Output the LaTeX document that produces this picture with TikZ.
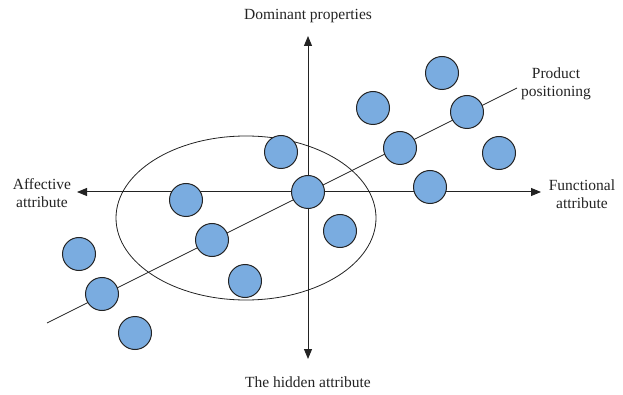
\documentclass[tikz,border=0pt]{standalone}
\usepackage{fontspec}
\setmainfont{Liberation Serif}
\usetikzlibrary{arrows.meta}
\definecolor{dotblue}{RGB}{122,172,224}
\definecolor{ink}{RGB}{35,35,35}
\tikzset{
  dot/.style={circle,draw=ink,line width=1pt,fill=dotblue,minimum size=33pt,inner sep=0pt},
  axis/.style={draw=ink,line width=1pt,-{Triangle[length=10pt,width=8pt]}},
  lbl/.style={font=\fontsize{15.5}{18}\selectfont,text=ink,align=center,inner sep=0pt},
}
\begin{document}
\begin{tikzpicture}[x=1pt,y=-1pt]
\useasboundingbox (0,0) rectangle (623,395);
\coordinate (O) at (308,192);
\coordinate (top) at (308,36);
\coordinate (bot) at (308,359);
\coordinate (lft) at (77,192);
\coordinate (rgt) at (541,192);
\coordinate (ls) at (47,323);
\coordinate (le) at (517,88);
% positioning line
\draw[ink,line width=0.8pt] (ls) -- (le);
% axes
\draw[axis] (O) -- (top);
\draw[axis] (O) -- (bot);
\draw[axis] (O) -- (lft);
\draw[axis] (O) -- (rgt);
% ellipse
\draw[ink,line width=0.8pt] (246,218) ellipse [x radius=130, y radius=82];
% dots
\node[dot] (c1) at (442,73) {};
\node[dot] (c2) at (373,108) {};
\node[dot] (c3) at (467,112) {};
\node[dot] (c4) at (400,148) {};
\node[dot] (c5) at (499,153) {};
\node[dot] (c6) at (281,152) {};
\node[dot] (c7) at (430,187) {};
\node[dot] (c8) at (186,200) {};
\node[dot] (c9) at (308,192) {};
\node[dot] (c10) at (340,231) {};
\node[dot] (c11) at (212,240) {};
\node[dot] (c12) at (79,254) {};
\node[dot] (c13) at (245,281) {};
\node[dot] (c14) at (102,294) {};
\node[dot] (c15) at (135,333) {};
% labels
\node[lbl] (tdom) at (308,16) {Dominant properties};
\node[lbl] (thid) at (308,382) {The hidden attribute};
\node[lbl] (taff) at (42,193) {Affective\\attribute};
\node[lbl] (tfun) at (582,194) {Functional\\attribute};
\node[lbl] (tpro) at (556,84) {Product\\positioning};
\end{tikzpicture}
\end{document}
